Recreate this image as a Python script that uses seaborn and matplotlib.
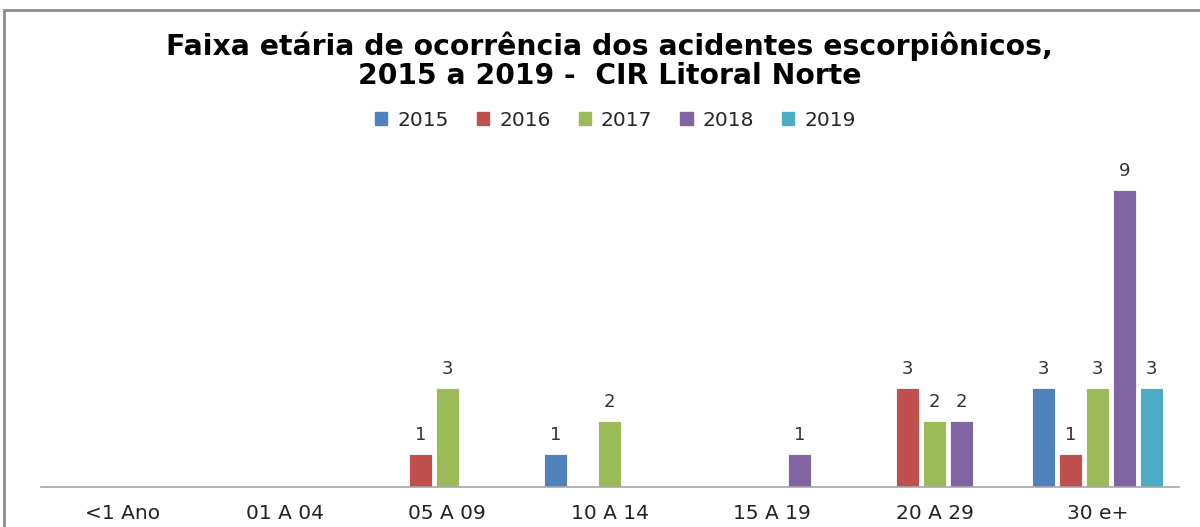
import matplotlib
matplotlib.use("Agg")
import matplotlib.pyplot as plt
import matplotlib.patches as mpatches
import seaborn as sns
import pandas as pd
import numpy as np

categories = ["<1 Ano", "01 A 04", "05 A 09", "10 A 14", "15 A 19", "20 A 29", "30 e+"]
years = ["2015", "2016", "2017", "2018", "2019"]
v2015 = [0, 0, 0, 1, 0, 0, 3]
v2016 = [0, 0, 1, 0, 0, 3, 1]
v2017 = [0, 0, 3, 2, 0, 2, 3]
v2018 = [0, 0, 0, 0, 1, 2, 9]
v2019 = [0, 0, 0, 0, 0, 0, 3]
colors = ["#4F81BD", "#C0504D", "#9BBB59", "#8064A2", "#4BACC6"]

series = {"2015": v2015, "2016": v2016, "2017": v2017, "2018": v2018, "2019": v2019}
rows = []
for y in years:
    for c, v in zip(categories, series[y]):
        rows.append({"cat": c, "year": y, "val": v if v != 0 else np.nan})
df = pd.DataFrame(rows)

sns.set_theme(style="white")
plt.rcParams["font.family"] = ["DejaVu Sans"]

fig = plt.figure(figsize=(12, 5.27), dpi=100)
ax = fig.add_axes([41 / 1200, 1 - 487 / 527, 1137.5 / 1200, 330 / 527])

sns.barplot(data=df, x="cat", y="val", hue="year", hue_order=years, order=categories,
            palette=colors, saturation=1, width=0.83, gap=0.16, ax=ax, legend=False,
            edgecolor="white", linewidth=0.6, errorbar=None)

for cont in ax.containers:
    labels = ["" if (np.isnan(b.get_height()) or b.get_height() == 0) else f"{int(b.get_height())}"
              for b in cont]
    ax.bar_label(cont, labels=labels, padding=7, fontsize=13, color="#333333")

ax.set_ylim(0, 10)
ax.set_xlim(-0.5, len(categories) - 0.5)
ax.set_xlabel("")
ax.set_ylabel("")
ax.set_yticks([])
for s in ["top", "left", "right"]:
    ax.spines[s].set_visible(False)
ax.spines["bottom"].set_color("#a6a6a6")
ax.spines["bottom"].set_linewidth(1.2)
ax.tick_params(axis="x", length=0, pad=12, labelsize=14.5, colors="#222222")

fig.text(0.508, 1 - 46 / 527, "Faixa etária de ocorrência dos acidentes escorpiônicos,",
         ha="center", va="center", fontsize=20.3, fontweight="bold", color="black")
fig.text(0.508, 1 - 76 / 527, "2015 a 2019 -  CIR Litoral Norte",
         ha="center", va="center", fontsize=20.3, fontweight="bold", color="black")

handles = [mpatches.Patch(color=c, label=y) for c, y in zip(colors, years)]
fig.legend(handles=handles, loc="center", bbox_to_anchor=(0.513, 1 - 120 / 527), ncol=5,
           frameon=False, handlelength=0.6, handleheight=0.6,
           handletextpad=0.5, columnspacing=1.4, prop={"size": 14.5})

frame = mpatches.Rectangle((4 / 1200, -0.1), 1.2, 1 - 10 / 527 + 0.1, transform=fig.transFigure,
                           fill=False, edgecolor="#8c8c8c", linewidth=2, clip_on=False)
fig.patches.append(frame)

fig.savefig("out.png", dpi=100)
